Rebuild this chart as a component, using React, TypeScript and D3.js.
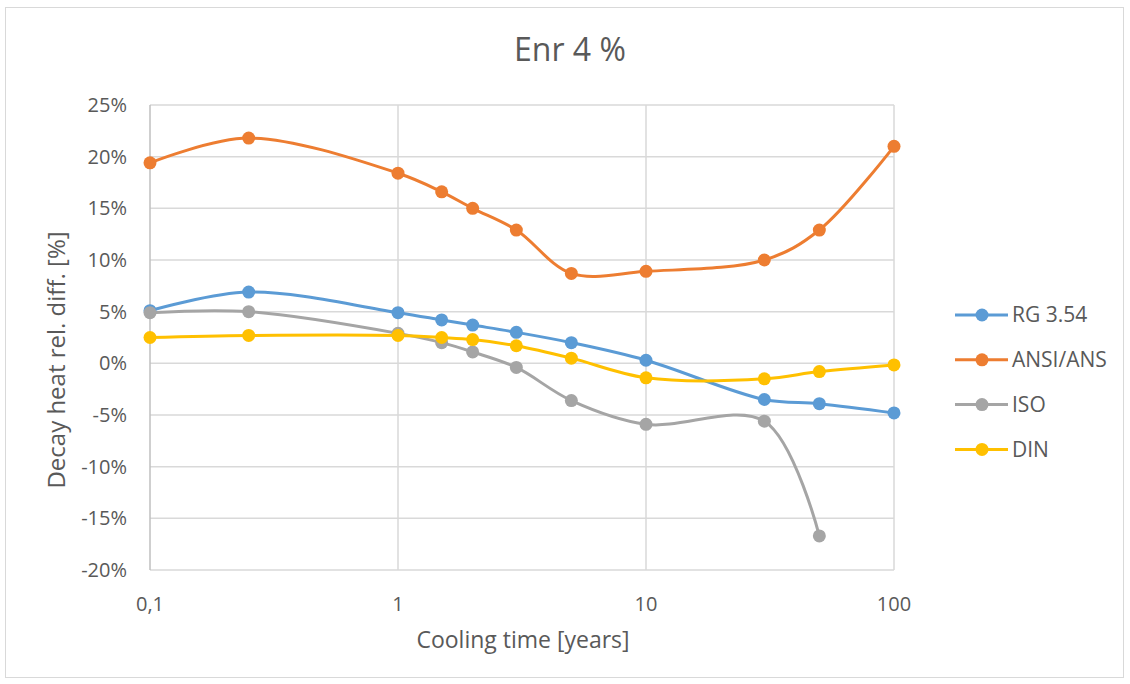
import React, { useEffect, useRef } from 'react'
import * as d3 from 'd3'

const coolingTimes = [0.1, 0.25, 1, 1.5, 2, 3, 5, 10, 30, 50, 100]
const rg354 = [5.1, 6.9, 4.9, 4.2, 3.7, 3.0, 2.0, 0.3, -3.5, -3.9, -4.8]
const ansi = [19.4, 21.8, 18.4, 16.6, 15.0, 12.9, 8.7, 8.9, 10.0, 12.9, 21.0]
const iso = [4.9, 5.0, 2.9, 2.0, 1.1, -0.4, -3.6, -5.9, -5.6, -16.7]
const din = [2.5, 2.7, 2.7, 2.5, 2.3, 1.7, 0.5, -1.4, -1.5, -0.8, -0.15]

const seriesNames = ['RG 3.54', 'ANSI/ANS', 'ISO', 'DIN']
const seriesColors = ['#5B9BD5', '#ED7D31', '#A5A5A5', '#FFC000']
const yTicks = [25, 20, 15, 10, 5, 0, -5, -10, -15, -20]
const xTicks = [0.1, 1, 10, 100]
const xTickLabels = ['0,1', '1', '10', '100']

const W = 1130
const H = 684
const FONT = 'Open Sans, sans-serif'

export default function App() {
  const svgRef = useRef<SVGSVGElement>(null)

  useEffect(() => {
    if (!svgRef.current) return
    const svg = d3.select(svgRef.current)
    svg.selectAll('*').remove()

    const x = d3.scaleLog().domain([0.1, 100]).range([150, 894])
    const y = d3.scaleLinear().domain([-20, 25]).range([570, 105])

    // chart border
    svg
      .append('rect')
      .attr('x', 5.5)
      .attr('y', 7.5)
      .attr('width', 1118)
      .attr('height', 670)
      .attr('fill', '#fff')
      .attr('stroke', '#d9d9d9')

    // horizontal grid
    svg
      .append('g')
      .selectAll('line')
      .data(yTicks)
      .join('line')
      .attr('x1', 150)
      .attr('x2', 894)
      .attr('y1', (d) => y(d))
      .attr('y2', (d) => y(d))
      .attr('stroke', '#d9d9d9')
      .attr('stroke-width', 1.5)

    // vertical grid
    svg
      .append('g')
      .selectAll('line')
      .data(xTicks.slice(1))
      .join('line')
      .attr('x1', (d) => x(d))
      .attr('x2', (d) => x(d))
      .attr('y1', 105)
      .attr('y2', 570)
      .attr('stroke', '#d9d9d9')
      .attr('stroke-width', 1.5)

    // left axis line
    svg
      .append('line')
      .attr('x1', 150)
      .attr('x2', 150)
      .attr('y1', 105)
      .attr('y2', 570)
      .attr('stroke', '#bfbfbf')
      .attr('stroke-width', 1.5)

    // y tick labels
    svg
      .append('g')
      .selectAll('text')
      .data(yTicks)
      .join('text')
      .attr('x', 127)
      .attr('y', (d) => y(d))
      .attr('dy', '0.35em')
      .attr('text-anchor', 'end')
      .attr('font-family', FONT)
      .attr('font-size', 20)
      .attr('fill', '#595959')
      .text((d) => `${d}%`)

    // x tick labels
    svg
      .append('g')
      .selectAll('text')
      .data(xTicks)
      .join('text')
      .attr('x', (d) => x(d))
      .attr('y', 604)
      .attr('dy', '0.35em')
      .attr('text-anchor', 'middle')
      .attr('font-family', FONT)
      .attr('font-size', 20)
      .attr('fill', '#595959')
      .text((d, i) => xTickLabels[i])

    // title
    svg
      .append('text')
      .attr('x', 570)
      .attr('y', 50)
      .attr('dy', '0.35em')
      .attr('text-anchor', 'middle')
      .attr('font-family', FONT)
      .attr('font-size', 32)
      .attr('fill', '#595959')
      .text('Enr 4 %')

    // axis titles
    svg
      .append('text')
      .attr('x', 523)
      .attr('y', 640)
      .attr('dy', '0.35em')
      .attr('text-anchor', 'middle')
      .attr('font-family', FONT)
      .attr('font-size', 23)
      .attr('fill', '#595959')
      .text('Cooling time [years]')

    svg
      .append('text')
      .attr('transform', `translate(57, 360) rotate(-90)`)
      .attr('dy', '0.35em')
      .attr('text-anchor', 'middle')
      .attr('font-family', FONT)
      .attr('font-size', 24)
      .attr('fill', '#595959')
      .text('Decay heat rel. diff. [%]')

    const allSeries = [rg354, ansi, iso, din]
    const line = d3
      .line<[number, number]>()
      .x((d) => x(d[0]))
      .y((d) => y(d[1]))
      .curve(d3.curveCatmullRom.alpha(0.5))

    allSeries.forEach((vals, i) => {
      const pts: [number, number][] = vals.map((v, j) => [coolingTimes[j], v])
      const g = svg.append('g')
      g.append('path')
        .attr('d', line(pts))
        .attr('fill', 'none')
        .attr('stroke', seriesColors[i])
        .attr('stroke-width', 3)
      g.selectAll('circle')
        .data(pts)
        .join('circle')
        .attr('cx', (d) => x(d[0]))
        .attr('cy', (d) => y(d[1]))
        .attr('r', 6.5)
        .attr('fill', seriesColors[i])
    })

    // legend
    const legend = svg
      .append('g')
      .selectAll('g')
      .data(seriesNames)
      .join('g')
      .attr('transform', (d, i) => `translate(955, ${315 + i * 44.8})`)
    legend
      .append('line')
      .attr('x1', 0)
      .attr('x2', 53)
      .attr('stroke', (d, i) => seriesColors[i])
      .attr('stroke-width', 3)
    legend
      .append('circle')
      .attr('cx', 27)
      .attr('r', 6.5)
      .attr('fill', (d, i) => seriesColors[i])
    legend
      .append('text')
      .attr('x', 57)
      .attr('dy', '0.35em')
      .attr('font-family', FONT)
      .attr('font-size', 21)
      .attr('fill', '#595959')
      .text((d) => d)
  }, [])

  return (
    <svg
      ref={svgRef}
      width={W}
      height={H}
      style={{ position: 'absolute', left: 0, top: 0 }}
    />
  )
}
